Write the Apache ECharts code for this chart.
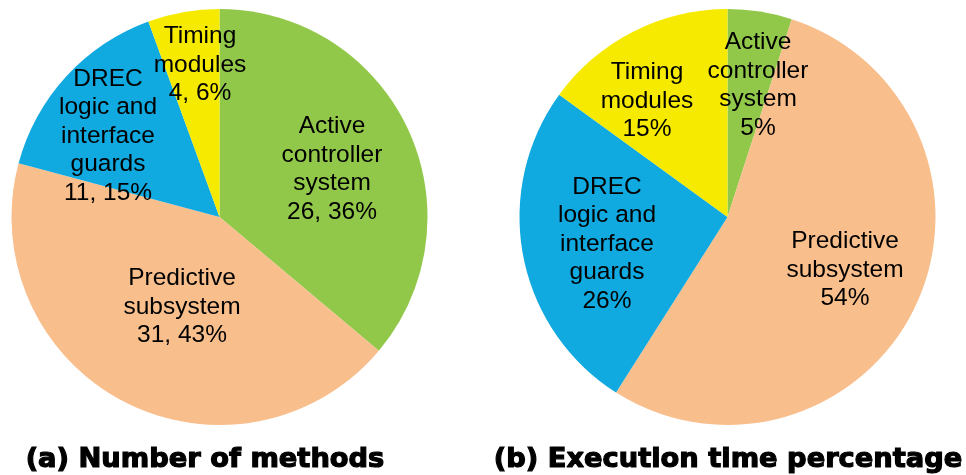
<!DOCTYPE html>
<html>
<head>
<meta charset="utf-8">
<script src="https://cdn.jsdelivr.net/npm/echarts@6/dist/echarts.min.js"></script>
<style>
	html, body { margin: 0; padding: 0; background: #fff; }
	#main { width: 966px; height: 475px; }
</style>
</head>
<body>
<div id="main"></div>
<script>
	// categories, clockwise from 12 o'clock
	var categories = ['Active\ncontroller\nsystem', 'Predictive\nsubsystem', 'DREC\nlogic and\ninterface\nguards', 'Timing\nmodules'];
	var methodCounts = [26, 31, 11, 4];      // (a) number of methods
	var timePercents = [5, 54, 26, 15];      // (b) execution time, %
	var titles = ['(a) Number of methods', '(b) Execution time percentage'];

	var colors = ['#92c84a', '#f8be8c', '#10a9e0', '#f5ea00'];

	// where each label block sits (centre of text), per pie
	var labelPosA = [[332, 169], [182, 307], [108, 136], [200, 65]];
	var labelPosB = [[758, 85], [845, 270], [607, 244], [647, 101]];

	function toData(vals) {
		var out = [];
		for (var i = 0; i < vals.length; i++) {
			out.push({ name: categories[i], value: vals[i], itemStyle: { color: colors[i] } });
		}
		return out;
	}

	function pieSeries(vals, center, fmt, pos) {
		return {
			type: 'pie',
			center: center,
			radius: 208,
			startAngle: 90,
			clockwise: true,
			percentPrecision: 0,
			avoidLabelOverlap: false,
			silent: true,
			itemStyle: { borderWidth: 0 },
			label: {
				show: true,
				position: 'inside',
				formatter: fmt,
				color: '#000',
				fontFamily: 'Liberation Sans, Arial, sans-serif',
				fontSize: 24.5,
				lineHeight: 28.5,
				align: 'center'
			},
			labelLine: { show: false },
			labelLayout: function (p) {
				var xy = pos[p.dataIndex];
				return { x: xy[0], y: xy[1], align: 'center', verticalAlign: 'middle' };
			},
			data: toData(vals)
		};
	}

	var titleStyle = {
		fontFamily: 'DejaVu Sans, sans-serif',
		fontWeight: 'bold',
		fontSize: 27.3,
		color: '#000',
		textBorderColor: '#000',
		textBorderWidth: 1.2
	};

	var chart = echarts.init(document.getElementById('main'));
	chart.setOption({
		animation: false,
		backgroundColor: '#fff',
		title: [
			{ text: titles[0], left: 200, top: 441, textAlign: 'center', textStyle: titleStyle },
			{ text: titles[1], left: 723, top: 441, textAlign: 'center', textStyle: titleStyle }
		],
		series: [
			pieSeries(methodCounts, [219.5, 217], '{b}\n{c}, {d}%', labelPosA),
			pieSeries(timePercents, [727.5, 217], '{b}\n{c}%', labelPosB)
		]
	});
</script>
</body>
</html>
